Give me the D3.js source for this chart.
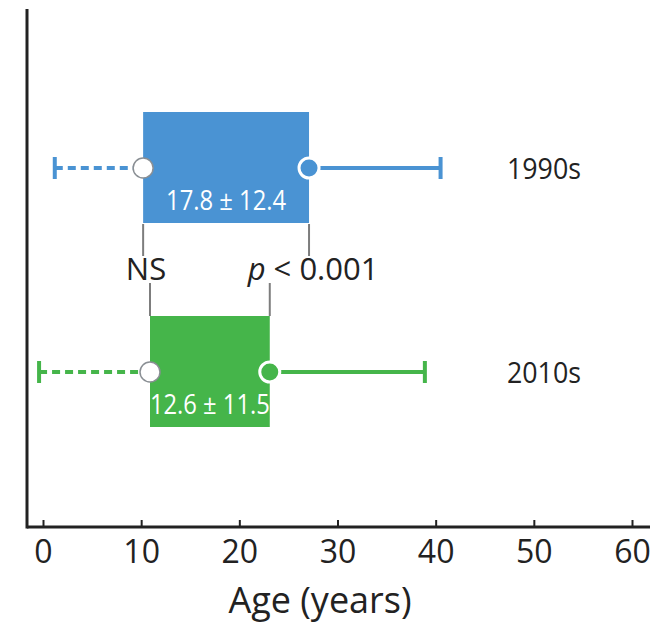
<!DOCTYPE html>
<html>
<head>
<meta charset="utf-8">
<script src="https://cdn.jsdelivr.net/npm/d3@7"></script>
<style>
  body { margin: 0; background: #fff; }
  text { font-family: "Open Sans", sans-serif; }
</style>
</head>
<body>
<div id="chart"></div>
<script>
(function () {

  const decades = ['1990s', '2010s']
  const lowerCap = [1.2, -0.4]
  const boxLow = [10.2, 10.9]
  const boxHigh = [27.1, 23.1]
  const upperCap = [40.5, 38.9]
  const meanSd = ['17.8 \u00b1 12.4', '12.6 \u00b1 11.5']
  const colors = ['#4a93d3', '#45b54a']

  // comparisons between the two decades
  const testLabels = ['NS', 'p < 0.001']
  const testEdges = [boxLow, boxHigh]

  const xTicks = [0, 10, 20, 30, 40, 50, 60]

  const width = 662
  const height = 635
  const axisY = 527
  const axisX = 27

  const svg = d3.select('#chart').append('svg')
      .attr('width', width)
      .attr('height', height)

  const xPositionScale = d3.scaleLinear()
    .domain([0, 60])
    .range([43, 632])

  const yPositionScale = d3.scalePoint()
    .domain(decades)
    .range([168, 372])

  const rows = decades.map((d, i) => ({
    decade: d, lo: lowerCap[i], q1: boxLow[i], q3: boxHigh[i], hi: upperCap[i],
    label: meanSd[i], color: colors[i]
  }))

  // boxes
  svg.selectAll('.box')
    .data(rows)
    .join('rect')
    .attr('class', 'box')
    .attr('x', d => xPositionScale(d.q1))
    .attr('width', d => xPositionScale(d.q3) - xPositionScale(d.q1))
    .attr('y', d => yPositionScale(d.decade) - 56)
    .attr('height', 111)
    .attr('fill', d => d.color)

  // dashed lower whisker
  svg.selectAll('.low-line')
    .data(rows)
    .join('line')
    .attr('class', 'low-line')
    .attr('x1', d => xPositionScale(d.lo))
    .attr('x2', d => xPositionScale(d.q1))
    .attr('y1', d => yPositionScale(d.decade))
    .attr('y2', d => yPositionScale(d.decade))
    .attr('stroke', d => d.color)
    .attr('stroke-width', 4)
    .attr('stroke-dasharray', '8,5')

  // solid upper whisker
  svg.selectAll('.high-line')
    .data(rows)
    .join('line')
    .attr('class', 'high-line')
    .attr('x1', d => xPositionScale(d.q3))
    .attr('x2', d => xPositionScale(d.hi))
    .attr('y1', d => yPositionScale(d.decade))
    .attr('y2', d => yPositionScale(d.decade))
    .attr('stroke', d => d.color)
    .attr('stroke-width', 4)

  // caps
  const caps = rows.flatMap(d => [{ v: d.lo, d }, { v: d.hi, d }])
  svg.selectAll('.cap')
    .data(caps)
    .join('line')
    .attr('class', 'cap')
    .attr('x1', c => xPositionScale(c.v))
    .attr('x2', c => xPositionScale(c.v))
    .attr('y1', c => yPositionScale(c.d.decade) - 11)
    .attr('y2', c => yPositionScale(c.d.decade) + 11)
    .attr('stroke', c => c.d.color)
    .attr('stroke-width', 4)

  // open circle at low edge, filled at high edge
  svg.selectAll('.open-dot')
    .data(rows)
    .join('circle')
    .attr('class', 'open-dot')
    .attr('cx', d => xPositionScale(d.q1))
    .attr('cy', d => yPositionScale(d.decade))
    .attr('r', 10)
    .attr('fill', '#fff')
    .attr('stroke', '#8a8f94')
    .attr('stroke-width', 1.5)

  svg.selectAll('.full-dot')
    .data(rows)
    .join('circle')
    .attr('class', 'full-dot')
    .attr('cx', d => xPositionScale(d.q3))
    .attr('cy', d => yPositionScale(d.decade))
    .attr('r', 10)
    .attr('fill', d => d.color)
    .attr('stroke', '#fff')
    .attr('stroke-width', 3)

  // mean +- sd inside the boxes
  svg.selectAll('.value')
    .data(rows)
    .join('text')
    .attr('class', 'value')
    .attr('x', d => (xPositionScale(d.q1) + xPositionScale(d.q3)) / 2)
    .attr('y', d => yPositionScale(d.decade) + 42)
    .attr('text-anchor', 'middle')
    .attr('fill', '#fff')
    .attr('font-size', 27)
    .attr('textLength', 120)
    .attr('lengthAdjust', 'spacingAndGlyphs')
    .text(d => d.label)

  // decade names
  svg.selectAll('.decade')
    .data(rows)
    .join('text')
    .attr('class', 'decade')
    .attr('x', 581)
    .attr('y', d => yPositionScale(d.decade) + 11)
    .attr('text-anchor', 'end')
    .attr('font-size', 29)
    .attr('fill', '#222')
    .attr('textLength', 74)
    .attr('lengthAdjust', 'spacingAndGlyphs')
    .text(d => d.decade)

  // brackets between the decades
  const top = yPositionScale(decades[0]) + 56
  const bottom = yPositionScale(decades[1]) - 56
  testEdges.forEach((edge, i) => {
    svg.append('line')
      .attr('x1', xPositionScale(edge[0])).attr('x2', xPositionScale(edge[0]))
      .attr('y1', top).attr('y2', 256)
      .attr('stroke', '#7d7d7d').attr('stroke-width', 2)
    svg.append('line')
      .attr('x1', xPositionScale(edge[1])).attr('x2', xPositionScale(edge[1]))
      .attr('y1', 283).attr('y2', bottom)
      .attr('stroke', '#7d7d7d').attr('stroke-width', 2)

    const t = svg.append('text')
      .attr('x', xPositionScale(d3.max(edge)) + (i ? 4 : -4))
      .attr('y', 280)
      .attr('text-anchor', 'middle')
      .attr('font-size', 31)
      .attr('fill', '#222')
    if (testLabels[i].startsWith('p ')) {
      t.append('tspan').attr('font-style', 'italic').text('p')
      t.append('tspan').text(testLabels[i].slice(1))
    } else {
      t.text(testLabels[i])
    }
  })

  // x axis with inward ticks
  const xAxis = d3.axisBottom(xPositionScale)
    .tickValues(xTicks)
    .tickSizeInner(-7)
    .tickSizeOuter(0)
    .tickPadding(13)

  const gx = svg.append('g')
    .attr('class', 'axis x-axis')
    .attr('transform', 'translate(0,' + axisY + ')')
    .call(xAxis)

  gx.select('.domain').remove()
  gx.selectAll('.tick line').attr('stroke', '#222').attr('stroke-width', 2)
  gx.selectAll('.tick text')
    .attr('font-family', '"Open Sans", sans-serif')
    .attr('font-size', 32)
    .attr('fill', '#222')

  svg.append('line')
    .attr('x1', axisX).attr('x2', 650)
    .attr('y1', axisY).attr('y2', axisY)
    .attr('stroke', '#222').attr('stroke-width', 3)

  svg.append('line')
    .attr('x1', axisX).attr('x2', axisX)
    .attr('y1', 9).attr('y2', axisY + 1.5)
    .attr('stroke', '#222').attr('stroke-width', 3)

  svg.append('text')
    .attr('x', 320)
    .attr('y', 613)
    .attr('text-anchor', 'middle')
    .attr('font-size', 36)
    .attr('fill', '#222')
    .text('Age (years)')

})();
</script>
</body>
</html>
